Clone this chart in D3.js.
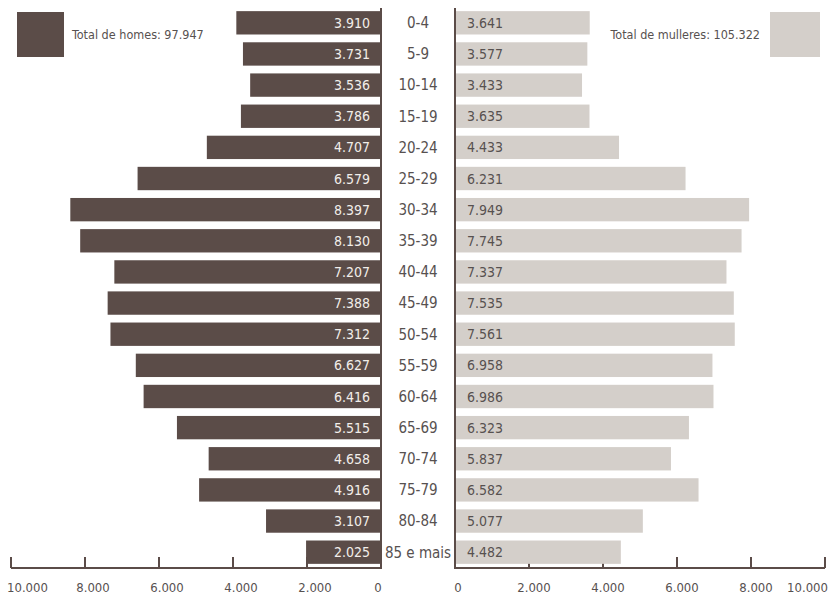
<!DOCTYPE html>
<html>
<head>
<meta charset="utf-8">
<script src="https://cdn.jsdelivr.net/npm/d3@7"></script>
<style>
  html, body { margin: 0; padding: 0; background: #fff; }
  svg { display: block; }
  text { font-family: 'Liberation Sans Narrow', 'DejaVu Sans Condensed', 'Arial Narrow', sans-serif; }
</style>
</head>
<body>
<svg id="chart" width="830" height="596"></svg>
<script>
const categories = ["0-4","5-9","10-14","15-19","20-24","25-29","30-34","35-39","40-44","45-49","50-54","55-59","60-64","65-69","70-74","75-79","80-84","85 e mais"];
const homes =    [3910,3731,3536,3786,4707,6579,8397,8130,7207,7388,7312,6627,6416,5515,4658,4916,3107,2025];
const mulleres = [3641,3577,3433,3635,4433,6231,7949,7745,7337,7535,7561,6958,6986,6323,5837,6582,5077,4482];
const axisTicks = [0,2000,4000,6000,8000,10000];
const legendHomes = "Total de homes: 97.947";
const legendMulleres = "Total de mulleres: 105.322";

const dark = "#5b4c48";
const light = "#d4cfca";
const textGrey = "#575150";

const locale = d3.formatLocale({decimal: ",", thousands: ".", grouping: [3], currency: ["", "€"]});
const fmt = locale.format(",d");

const W = 830;
const svg = d3.select("#chart");

const xL = d3.scaleLinear().domain([0, 10000]).range([381, 11]);
const xR = d3.scaleLinear().domain([0, 10000]).range([455, 825]);
const y = d3.scaleBand().domain(categories).range([7.25, 567.75]).paddingInner(0.25).paddingOuter(0.125);
const axisY = 568;
const maxTick = d3.max(axisTicks);

// bottom axes (drawn first, bars overlap ticks)
const axL = svg.append("g");
axL.append("line").attr("x1", xL(maxTick)).attr("x2", xL(0)).attr("y1", axisY).attr("y2", axisY)
  .attr("stroke", dark).attr("stroke-width", 2);
axL.selectAll("line.tick").data(axisTicks.filter(d => d > 0)).join("line").attr("class", "tick")
  .attr("x1", d => xL(d)).attr("x2", d => xL(d)).attr("y1", axisY).attr("y2", axisY - 11)
  .attr("stroke", dark).attr("stroke-width", 2);
axL.selectAll("text").data(axisTicks).join("text")
  .attr("x", d => d === maxTick ? 7 : (d === 0 ? xL(d) - 3 : xL(d) + 8))
  .attr("text-anchor", d => d === maxTick ? "start" : "middle")
  .attr("y", 592).attr("font-size", 13).attr("fill", textGrey)
  .text(d => fmt(d));

const axR = svg.append("g");
axR.append("line").attr("x1", xR(0)).attr("x2", xR(maxTick)).attr("y1", axisY).attr("y2", axisY)
  .attr("stroke", dark).attr("stroke-width", 2);
axR.selectAll("line.tick").data(axisTicks.filter(d => d > 0)).join("line").attr("class", "tick")
  .attr("x1", d => xR(d)).attr("x2", d => xR(d)).attr("y1", axisY).attr("y2", axisY - 11)
  .attr("stroke", dark).attr("stroke-width", 2);
axR.selectAll("text").data(axisTicks).join("text")
  .attr("x", d => d === maxTick ? W - 2 : xR(d) + (d === 0 ? 3 : 5))
  .attr("text-anchor", d => d === maxTick ? "end" : "middle")
  .attr("y", 592).attr("font-size", 13).attr("fill", textGrey)
  .text(d => fmt(d));

// bars
const rowsL = categories.map((c, i) => ({c, v: homes[i]}));
const rowsR = categories.map((c, i) => ({c, v: mulleres[i]}));

svg.append("g").selectAll("rect").data(rowsL).join("rect")
  .attr("x", d => xL(d.v)).attr("y", d => y(d.c))
  .attr("width", d => xL(0) - xL(d.v)).attr("height", y.bandwidth())
  .attr("fill", dark);

svg.append("g").selectAll("rect").data(rowsR).join("rect")
  .attr("x", xR(0)).attr("y", d => y(d.c))
  .attr("width", d => xR(d.v) - xR(0)).attr("height", y.bandwidth())
  .attr("fill", light);

// vertical center lines
svg.append("line").attr("x1", xL(0)).attr("x2", xL(0)).attr("y1", 8).attr("y2", axisY + 1)
  .attr("stroke", dark).attr("stroke-width", 2);
svg.append("line").attr("x1", xR(0)).attr("x2", xR(0)).attr("y1", 8).attr("y2", axisY + 1)
  .attr("stroke", dark).attr("stroke-width", 2);

// value labels
svg.append("g").selectAll("text").data(rowsL).join("text")
  .attr("x", xL(0) - 11).attr("y", d => y(d.c) + y.bandwidth() / 2)
  .attr("dy", "0.36em").attr("text-anchor", "end")
  .attr("font-size", 14).attr("fill", "#f2eeea")
  .text(d => fmt(d.v));

svg.append("g").selectAll("text").data(rowsR).join("text")
  .attr("x", xR(0) + 12).attr("y", d => y(d.c) + y.bandwidth() / 2)
  .attr("dy", "0.36em").attr("text-anchor", "start")
  .attr("font-size", 14).attr("fill", textGrey)
  .text(d => fmt(d.v));

// category labels
svg.append("g").selectAll("text").data(categories).join("text")
  .attr("x", (xL(0) + xR(0)) / 2).attr("y", d => y(d) + y.bandwidth() / 2)
  .attr("dy", "0.36em").attr("text-anchor", "middle")
  .attr("font-size", 15).attr("fill", textGrey)
  .text(d => d);

// legends
svg.append("rect").attr("x", 17).attr("y", 12).attr("width", 47).attr("height", 45).attr("fill", dark);
svg.append("text").attr("x", 72).attr("y", 34.5).attr("dy", "0.36em")
  .attr("font-size", 12.5).attr("fill", textGrey).text(legendHomes);

svg.append("rect").attr("x", 770).attr("y", 12).attr("width", 50).attr("height", 45).attr("fill", light);
svg.append("text").attr("x", 760).attr("y", 34.5).attr("dy", "0.36em").attr("text-anchor", "end")
  .attr("font-size", 12.5).attr("fill", textGrey).text(legendMulleres);
</script>
</body>
</html>
